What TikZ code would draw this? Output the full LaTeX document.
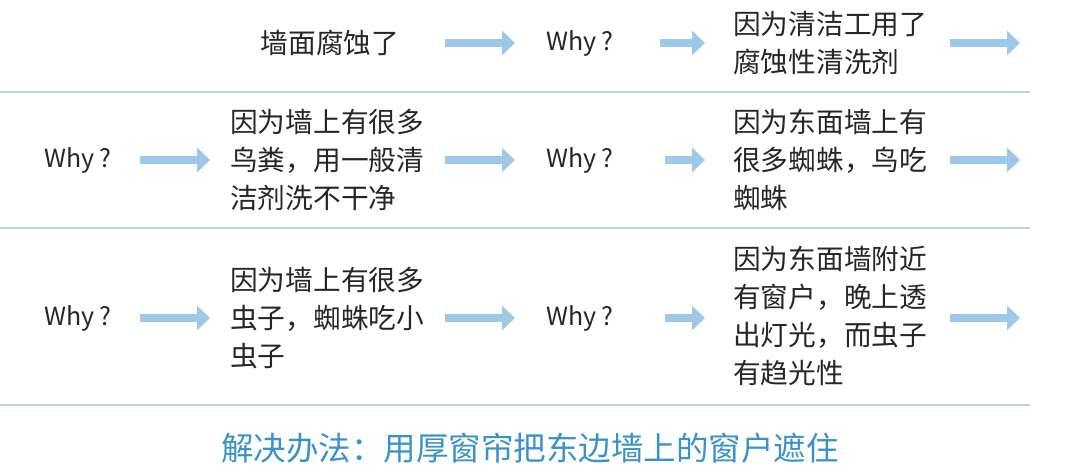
\documentclass[tikz,border=0pt]{standalone}
\usepackage{fontspec}
\setmainfont{Noto Sans CJK SC}
\usetikzlibrary{arrows.meta, positioning}
\definecolor{arrowblue}{HTML}{9DC8E8}
\definecolor{lineblue}{HTML}{B5D6EA}
\definecolor{titleblue}{HTML}{3A92C8}

\begin{document}
\begin{tikzpicture}[x=1pt, y=-1pt,
  cell/.style={align=left, font=\fontsize{27.7}{38}\selectfont, text=black!85, inner sep=0pt},
  why/.style={font=\fontsize{25}{30}\selectfont, text=black!85, inner sep=0pt},
  flow/.style={-{Triangle[length=13pt, width=24pt]}, line width=8pt, draw=arrowblue},
  rule/.style={draw=lineblue, line width=1.2pt}
]
  \useasboundingbox (0,0) rectangle (1080,475);

  % row 1
  \node[cell] (wall) at (330,43) {墙面腐蚀了};
  \node[why] (w1) at (580,43) {Why ?};
  \node[cell, anchor=west] (clean) at (733,43) {因为清洁工用了\\腐蚀性清洗剂};
  \coordinate (a1s) at (445,43); \coordinate (a1e) at (515,43);
  \coordinate (a2s) at (660,43); \coordinate (a2e) at (705,43);
  \coordinate (a3s) at (950,43); \coordinate (a3e) at (1020,43);
  \draw[flow] (a1s) -- (a1e);
  \draw[flow] (a2s) -- (a2e);
  \draw[flow] (a3s) -- (a3e);
  \draw[rule] (0,92) -- (1030,92);

  % row 2
  \node[why] (w2) at (78,160) {Why ?};
  \node[cell, anchor=west] (dung) at (230,160) {因为墙上有很多\\鸟粪，用一般清\\洁剂洗不干净};
  \node[why] (w3) at (580,160) {Why ?};
  \node[cell, anchor=west] (spider) at (733,160) {因为东面墙上有\\很多蜘蛛，鸟吃\\蜘蛛};
  \coordinate (b1s) at (140,160); \coordinate (b1e) at (210,160);
  \coordinate (b2s) at (445,160); \coordinate (b2e) at (515,160);
  \coordinate (b3s) at (665,160); \coordinate (b3e) at (705,160);
  \coordinate (b4s) at (950,160); \coordinate (b4e) at (1020,160);
  \foreach \p in {b1,b2,b3,b4} \draw[flow] (\p s) -- (\p e);
  \draw[rule] (0,228) -- (1030,228);

  % row 3
  \node[why] (w4) at (78,318) {Why ?};
  \node[cell, anchor=west] (bugs) at (230,318) {因为墙上有很多\\虫子，蜘蛛吃小\\虫子};
  \node[why] (w5) at (580,318) {Why ?};
  \node[cell, anchor=west] (window) at (733,316) {因为东面墙附近\\有窗户，晚上透\\出灯光，而虫子\\有趋光性};
  \coordinate (c1s) at (140,318); \coordinate (c1e) at (210,318);
  \coordinate (c2s) at (445,318); \coordinate (c2e) at (515,318);
  \coordinate (c3s) at (665,318); \coordinate (c3e) at (705,318);
  \coordinate (c4s) at (950,318); \coordinate (c4e) at (1020,318);
  \foreach \p in {c1,c2,c3,c4} \draw[flow] (\p s) -- (\p e);
  \draw[rule] (0,405) -- (1030,405);

  % solution
  \node[font=\fontsize{32.5}{36}\selectfont, text=titleblue] (fix) at (530,448) {解决办法：用厚窗帘把东边墙上的窗户遮住};
\end{tikzpicture}
\end{document}
